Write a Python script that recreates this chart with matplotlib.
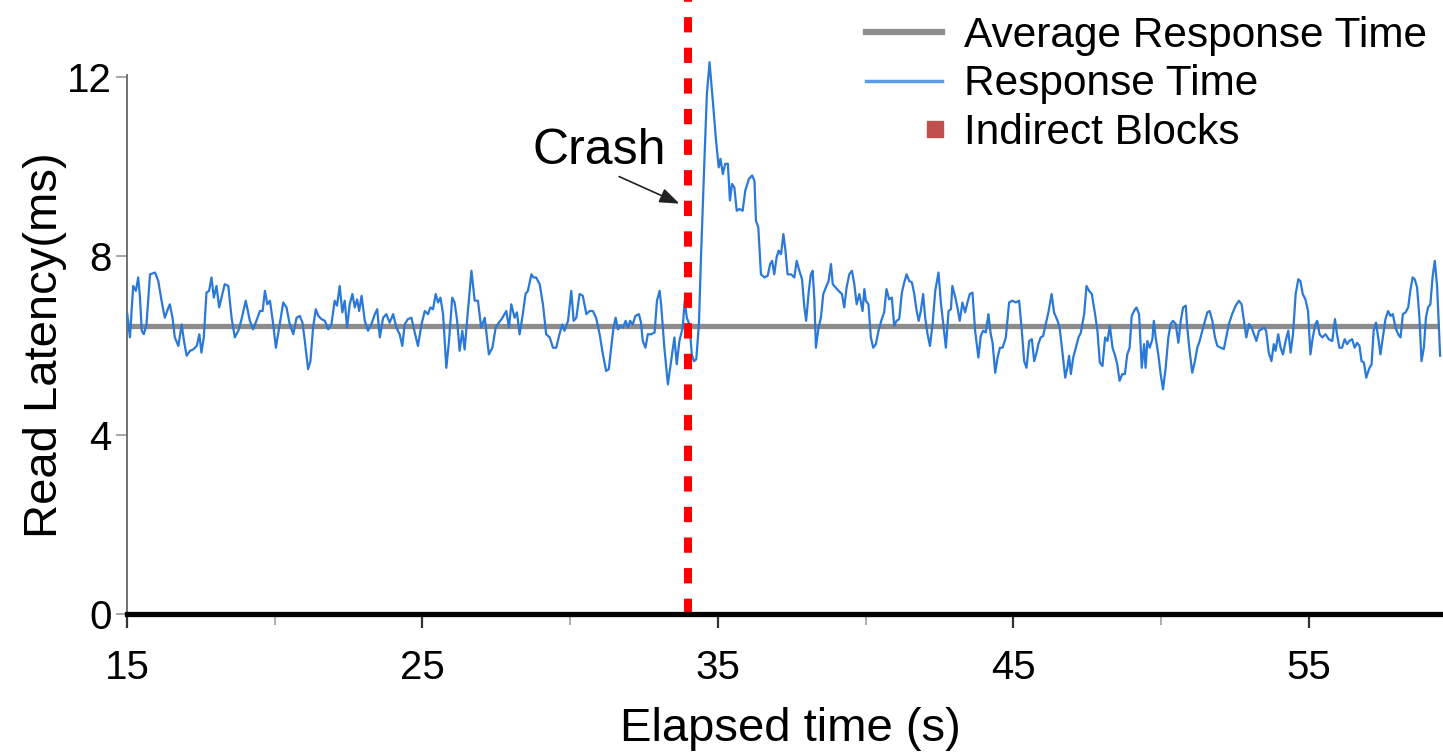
import matplotlib.pyplot as plt
from matplotlib.lines import Line2D
from matplotlib.legend_handler import HandlerBase

plt.rcParams['font.family'] = ['Liberation Sans', 'DejaVu Sans']

# read latency samples (elapsed seconds, ms)
elapsed = [
    15.01, 15.10, 15.21, 15.30, 15.38, 15.44, 15.50, 15.57, 15.66, 15.78, 15.95, 16.06, 16.17, 16.28,
    16.36, 16.45, 16.54, 16.62, 16.74, 16.85, 16.93, 17.02, 17.13, 17.24, 17.36, 17.45, 17.52, 17.60,
    17.69, 17.78, 17.86, 17.94, 18.03, 18.12, 18.20, 18.31, 18.43, 18.54, 18.65, 18.77, 18.88, 19.02,
    19.16, 19.27, 19.38, 19.50, 19.59, 19.67, 19.75, 19.84, 19.95, 20.04, 20.15, 20.29, 20.40, 20.51,
    20.63, 20.74, 20.85, 20.94, 21.02, 21.13, 21.21, 21.30, 21.39, 21.48, 21.58, 21.70, 21.81, 21.92,
    22.03, 22.11, 22.20, 22.29, 22.37, 22.45, 22.54, 22.63, 22.71, 22.79, 22.86, 22.94, 23.05, 23.16,
    23.27, 23.39, 23.47, 23.56, 23.67, 23.78, 23.89, 24.01, 24.12, 24.23, 24.32, 24.40, 24.51, 24.63,
    24.74, 24.85,
    24.97, 25.08, 25.19, 25.27, 25.36, 25.45, 25.53, 25.61, 25.70, 25.81, 25.90, 26.01, 26.09, 26.17,
    26.26, 26.35, 26.43, 26.54, 26.66, 26.77, 26.88, 26.99, 27.11, 27.25, 27.37, 27.48, 27.59, 27.71,
    27.84, 27.93, 28.01, 28.12, 28.20, 28.29, 28.40, 28.49, 28.57, 28.69, 28.76, 28.85, 28.97, 29.08,
    29.19, 29.31, 29.42, 29.53, 29.64, 29.73, 29.81, 29.93, 30.04, 30.12, 30.21, 30.32, 30.43, 30.55,
    30.66, 30.77, 30.88, 31.00, 31.11, 31.22, 31.31, 31.39, 31.47, 31.54, 31.62, 31.70, 31.79, 31.88,
    31.96, 32.03, 32.12, 32.21, 32.33, 32.40, 32.46, 32.55, 32.63, 32.74, 32.86, 32.94, 33.03,
    33.08, 33.19, 33.31, 33.42, 33.53, 33.61, 33.70, 33.81, 33.88, 33.95, 34.04, 34.12, 34.19, 34.27,
    34.36, 34.43, 34.55, 34.63, 34.72, 34.83, 34.94, 35.03, 35.09, 35.17, 35.25, 35.34, 35.41, 35.48,
    35.56, 35.64, 35.73, 35.84, 35.93, 36.05, 36.16, 36.24, 36.29, 36.37, 36.46, 36.58, 36.69, 36.77,
    36.84, 36.91, 36.99, 37.06, 37.14, 37.22, 37.29, 37.36, 37.48, 37.59, 37.67, 37.76, 37.85, 37.93,
    37.99, 38.08, 38.15, 38.21, 38.27, 38.32, 38.41, 38.49, 38.57, 38.66, 38.75, 38.83, 38.89, 38.98,
    39.09, 39.20, 39.28, 39.36, 39.45, 39.54, 39.62, 39.70, 39.79,
    39.90, 39.96, 40.01, 40.10, 40.18, 40.26, 40.35, 40.44, 40.55, 40.63, 40.71, 40.80, 40.89, 40.97,
    41.05, 41.14, 41.23, 41.31, 41.39, 41.48, 41.57, 41.65, 41.73, 41.80, 41.87, 41.95, 42.02, 42.10,
    42.18, 42.27, 42.36, 42.47, 42.55, 42.63, 42.72, 42.81, 42.89, 42.94, 43.04, 43.11, 43.19, 43.28,
    43.37, 43.45, 43.53, 43.62, 43.71, 43.82, 43.90, 43.98, 44.07, 44.16, 44.24, 44.30, 44.39, 44.47,
    44.55, 44.64, 44.75, 44.86, 44.97, 45.09, 45.20, 45.29, 45.37, 45.45, 45.54, 45.63, 45.71, 45.79,
    45.85, 45.93, 46.01, 46.10, 46.19, 46.30, 46.38, 46.50, 46.57, 46.66, 46.76, 46.83, 46.89, 46.95,
    47.03, 47.12, 47.21, 47.29, 47.40, 47.48, 47.57, 47.66, 47.77, 47.85, 47.93, 48.02, 48.11, 48.19,
    48.27, 48.36, 48.45, 48.52, 48.60, 48.69, 48.78, 48.86, 48.94, 49.01, 49.09, 49.17, 49.26,
    49.35, 49.43, 49.48, 49.54, 49.62, 49.71, 49.76, 49.82, 49.91, 49.99, 50.07, 50.16, 50.25, 50.33,
    50.41, 50.50, 50.59, 50.67, 50.75, 50.84, 50.89, 50.97, 51.06, 51.15, 51.23, 51.31, 51.40, 51.49,
    51.57, 51.65, 51.74, 51.83, 51.91, 52.02, 52.13, 52.21, 52.30, 52.41, 52.53, 52.64, 52.73, 52.81,
    52.89, 52.98, 53.07, 53.15, 53.23, 53.32, 53.41, 53.49, 53.56, 53.65, 53.74, 53.82, 53.88, 53.97,
    54.05, 54.13, 54.22, 54.31, 54.39, 54.47, 54.56, 54.65, 54.72, 54.80, 54.89, 54.98, 55.06, 55.14,
    55.23, 55.29, 55.37, 55.46, 55.57, 55.68, 55.80, 55.89, 55.96, 56.04, 56.13, 56.22, 56.30, 56.38,
    56.47, 56.56, 56.64, 56.72, 56.79, 56.87, 56.95, 57.04, 57.13, 57.20, 57.28, 57.37, 57.43, 57.51,
    57.60, 57.69, 57.77, 57.85, 57.94, 58.03, 58.11, 58.19, 58.28, 58.37, 58.44, 58.52, 58.59, 58.67,
    58.75, 58.82, 58.90, 58.97, 59.04, 59.12, 59.20, 59.27, 59.35, 59.40, 59.45,
]
latency = [
    6.71, 6.19, 7.34, 7.23, 7.53, 7.08, 6.34, 6.26, 6.48, 7.60, 7.64, 7.45, 7.01, 6.63,
    6.78, 6.93, 6.63, 6.19, 6.00, 6.48, 6.11, 5.78, 5.89, 5.92, 6.00, 6.26, 5.85, 6.19,
    7.19, 7.23, 7.53, 7.08, 7.34, 6.86, 7.08, 7.38, 7.34, 6.63, 6.19, 6.34, 6.60, 7.01,
    6.56, 6.37, 6.56, 6.78, 6.78, 7.23, 6.93, 7.01, 6.48, 5.96, 6.41, 6.97, 6.86, 6.48,
    6.26, 6.63, 6.67, 6.52, 6.11, 5.48, 5.66, 6.41, 6.82, 6.67, 6.60, 6.56, 6.37, 6.48,
    7.01, 6.90, 7.34, 6.75, 7.01, 6.41, 6.93, 7.16, 6.86, 7.04, 6.78, 7.12, 6.56, 6.34,
    6.48, 6.71, 6.82, 6.19, 6.63, 6.71, 6.52, 6.71, 6.41, 6.26, 6.00, 6.48, 6.60, 6.63,
    6.30, 6.00,
    6.48, 6.78, 6.71, 6.86, 6.82, 7.16, 6.97, 7.08, 6.71, 5.51, 6.11, 7.08, 6.97, 6.60,
    5.89, 6.34, 5.92, 6.78, 7.68, 7.01, 7.01, 6.41, 6.63, 5.81, 5.96, 6.41, 6.52, 6.63,
    6.78, 6.41, 6.93, 6.63, 6.75, 6.26, 6.71, 7.16, 7.23, 7.60, 7.53, 7.53, 7.38, 6.93,
    6.26, 6.19, 5.96, 5.96, 6.26, 6.48, 6.34, 6.56, 7.23, 6.56, 6.63, 7.16, 7.12, 6.71,
    6.78, 6.78, 6.63, 6.26, 5.81, 5.44, 5.48, 5.96, 6.41, 6.63, 6.37, 6.45, 6.41, 6.56,
    6.41, 6.56, 6.48, 6.67, 6.71, 6.52, 6.11, 5.96, 6.26, 6.26, 6.30, 7.01, 7.23,
    6.93, 5.96, 5.14, 5.66, 6.19, 5.59, 6.11, 6.41, 7.01, 6.63, 6.48, 5.81, 5.66, 5.70,
    6.48, 7.98, 10.22, 11.63, 12.34, 11.48, 10.59, 9.99, 10.18, 9.84, 10.07, 10.07, 9.25, 9.62,
    9.54, 9.02, 9.06, 9.02, 9.47, 9.73, 9.81, 9.69, 8.80, 8.65, 7.60, 7.53, 7.57, 7.83,
    7.90, 7.60, 7.98, 8.13, 8.05, 8.50, 8.13, 7.60, 7.60, 7.53, 7.90, 7.68, 7.49, 6.86,
    6.56, 7.23, 7.60, 7.68, 7.01, 5.96, 6.41, 6.63, 7.16, 7.31, 7.45, 7.83, 7.38, 7.31,
    7.23, 7.16, 6.86, 7.31, 7.60, 7.68, 7.38, 6.93, 7.16,
    6.78, 7.27, 7.01, 6.93, 6.19, 5.96, 6.04, 6.34, 6.60, 6.75, 7.27, 7.04, 7.08, 6.45,
    6.56, 6.60, 7.19, 7.42, 7.60, 7.45, 7.42, 7.16, 6.78, 6.56, 6.78, 7.16, 6.63, 6.26,
    6.00, 6.49, 7.23, 7.64, 6.97, 6.49, 5.96, 6.78, 6.82, 7.34, 7.08, 6.86, 6.56, 6.97,
    6.75, 6.97, 7.16, 7.19, 6.34, 5.74, 6.22, 6.34, 6.30, 6.71, 6.26, 6.07, 5.40, 5.74,
    5.96, 5.96, 6.19, 6.97, 7.01, 6.97, 7.01, 6.34, 5.66, 5.51, 6.11, 6.15, 5.66, 5.85,
    6.04, 6.19, 6.22, 6.49, 6.75, 7.16, 6.75, 6.56, 6.41, 5.89, 5.29, 5.51, 5.78, 5.37,
    5.74, 5.96, 6.19, 6.30, 6.71, 7.34, 7.23, 7.16, 6.71, 6.34, 5.63, 5.55, 6.19, 6.11,
    6.45, 5.96, 5.78, 5.59, 5.22, 5.37, 5.37, 5.81, 5.96, 6.67, 6.78, 6.86, 6.71,
    5.51, 6.04, 5.51, 6.11, 5.96, 6.15, 6.56, 6.19, 5.81, 5.37, 5.03, 5.51, 6.19, 6.49,
    6.56, 6.49, 6.07, 6.56, 6.86, 6.90, 6.41, 5.89, 5.40, 5.66, 5.96, 6.11, 6.34, 6.56,
    6.75, 6.78, 6.56, 6.19, 6.00, 5.96, 5.93, 6.19, 6.49, 6.71, 6.90, 7.01, 6.93, 6.56,
    6.19, 6.49, 6.41, 6.26, 6.11, 6.34, 6.37, 6.41, 6.34, 5.85, 5.66, 6.04, 5.89, 6.26,
    5.96, 5.81, 6.11, 6.34, 5.85, 6.26, 7.16, 7.49, 7.45, 7.16, 7.04, 6.78, 5.81, 6.19,
    6.49, 6.56, 6.26, 6.19, 6.26, 6.15, 6.11, 6.60, 6.26, 5.96, 5.96, 6.15, 6.04, 6.11,
    6.15, 5.96, 6.07, 6.00, 5.66, 5.63, 5.29, 5.48, 5.59, 6.34, 6.52, 6.11, 5.81, 6.19,
    6.60, 6.78, 6.67, 6.71, 6.41, 6.26, 6.19, 6.71, 6.75, 6.86, 7.23, 7.53, 7.49, 7.31,
    6.63, 5.66, 5.96, 6.63, 6.86, 6.93, 7.57, 7.90, 7.31, 6.56, 5.78,
]
avg_latency = 6.45
crash_time = 34.0

legend_labels = ['Average Response Time', 'Response Time', 'Indirect Blocks']


class RightSquare(HandlerBase):
    # square marker sitting at the right end of the handle box
    def create_artists(self, legend, orig_handle, xdescent, ydescent,
                       width, height, fontsize, trans):
        ms = orig_handle.get_markersize()
        m = Line2D([-xdescent + width - ms / 2], [(height - ydescent) / 2],
                   marker='s', markersize=ms, linestyle='none',
                   color=orig_handle.get_color())
        m.set_transform(trans)
        return [m]


fig = plt.figure(figsize=(14.43, 7.52), dpi=100)
ax = fig.add_axes([0.088, 0.183, 0.91, 0.717])

ax.axhline(avg_latency, color='#8c8c8c', lw=3.8, zorder=2)
ax.plot(elapsed, latency, color='#2a78d8', lw=1.6, clip_on=False, zorder=3)
ax.plot([crash_time, crash_time], [0, 13.72], color='#ff0000', lw=5.8,
        linestyle=(0, (1.9, 1.9)), dash_capstyle='butt',
        clip_on=False, zorder=4)

ax.annotate('Crash', xy=(33.7, 9.18), xytext=(31.0, 10.36), fontsize=36,
            ha='center', va='center',
            arrowprops=dict(arrowstyle='-|>,head_length=0.8,head_width=0.3',
                            mutation_scale=15, color='#222222', lw=1.2,
                            relpos=(0.6, 0.0), shrinkA=0, shrinkB=0))

ax.set_xlim(15, 59.45)
ax.set_ylim(0, 12.05)
ax.set_xticks([15, 25, 35, 45, 55])
ax.set_xticks([20, 30, 40, 50], minor=True)
ax.set_yticks([0, 4, 8, 12])
ax.tick_params(axis='both', labelsize=29)
ax.tick_params(axis='x', which='major', length=10, width=1.6, color='#333333', pad=15)
ax.tick_params(axis='x', which='minor', length=8, width=1.2, color='#a0a0a0')
ax.tick_params(axis='y', length=8, width=1.3, color='#a0a0a0', pad=3)

for s in ['top', 'right']:
    ax.spines[s].set_visible(False)
ax.spines['left'].set_color('#666666')
ax.spines['left'].set_linewidth(1.3)
ax.spines['bottom'].set_color('black')
ax.spines['bottom'].set_linewidth(3.8)
ax.spines['bottom'].set_zorder(5)

ax.set_xlabel('Elapsed time (s)', fontsize=34)
ax.set_ylabel('Read Latency(ms)', fontsize=34)
ax.xaxis.set_label_coords(0.505, -0.172)
ax.yaxis.set_label_coords(-0.046, 0.5)

handles = [Line2D([], [], color='#8c8c8c', lw=4.5),
           Line2D([], [], color='#5a9be6', lw=2.5),
           Line2D([], [], marker='s', color='#c0504d', markersize=11, linestyle='none')]
fig.legend(handles, legend_labels, loc='upper left',
           bbox_to_anchor=(866 / 1443, 1 - 16 / 752), frameon=False, fontsize=30.5,
           handlelength=1.8, handletextpad=0.52, labelspacing=0.2,
           borderpad=0, borderaxespad=0,
           handler_map={handles[2]: RightSquare()})

fig.savefig('out.png', dpi=100)
